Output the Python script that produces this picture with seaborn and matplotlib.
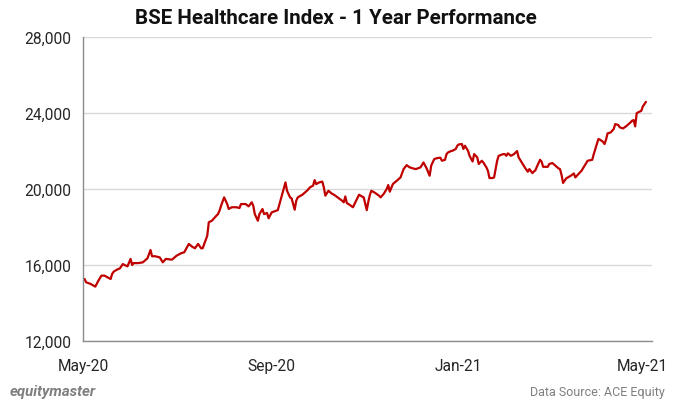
import pandas as pd
import numpy as np
import matplotlib
matplotlib.use("Agg")
import matplotlib.pyplot as plt
import matplotlib.dates as mdates
import matplotlib.ticker as mticker
import seaborn as sns

# days after 1 May 2020
day = [1, 2, 5, 7, 8, 10, 12, 14, 16, 18, 19, 20, 22, 24, 26, 27, 29, 31, 32, 33,
       36, 39, 42, 44, 45, 47, 50, 52, 54, 58, 61, 64, 66, 69, 71, 73,
       75, 77, 78, 81, 82, 84, 85, 87, 88, 89, 90, 92, 94, 95, 97, 100, 102, 103,
       106, 108, 110, 111, 112, 114, 115, 117, 118, 120, 121, 123, 125, 127, 129,
       130, 132, 133, 135, 136, 138, 139, 140,
       143, 146, 148, 150, 151, 152, 154, 156, 157, 158, 160, 162, 164, 166, 169,
       170, 171, 172, 174, 176, 178, 180, 182, 183, 185, 186, 187, 188, 190, 193,
       194, 196, 198, 199, 200, 202, 205, 207, 209, 211, 213, 215,
       217, 220, 222, 224, 226, 227, 229, 231, 233, 234, 236, 237, 238, 240, 241,
       243, 244, 245, 247, 248, 249, 251, 252, 254, 255, 257, 258, 260, 261, 263,
       264, 265, 267, 268, 270, 271, 274, 275, 276, 277, 279, 281, 283, 284, 286, 288,
       290, 291, 293, 295, 296, 298, 299, 300, 303, 304, 306, 308, 310, 311, 312,
       313, 315, 318, 320, 321, 323, 325, 327, 329, 332, 333, 334, 336, 337, 339,
       340, 341, 342, 344, 346, 347, 349, 350, 352, 354, 355, 357, 358, 359, 360,
       361, 362, 364, 365, 367]

index_value = [15263, 15090, 15000, 14910, 14860, 15170, 15440, 15440, 15350, 15260,
               15530, 15650, 15750, 15820, 16050, 16000, 15930, 16320, 16000, 16100,
               16100, 16140, 16350, 16790, 16460, 16460, 16400, 16140, 16320, 16280,
               16490, 16620, 16670, 17110, 16970, 16880,
               17110, 16880, 16880, 17540, 18250, 18330, 18420, 18600, 18680, 18860,
               19120, 19560, 19210, 18950, 19040, 19040, 19000, 19210,
               19210, 19090, 19300, 19120, 18680, 18330, 18680, 18950, 18680, 18740,
               18460, 18770, 18830, 18890, 19470, 19740, 20350, 19910, 19560, 19510,
               18910, 19380, 19560,
               19700, 19910, 20090, 20180, 20470, 20260, 20350, 20390, 20090, 19650,
               19910, 19770, 19680, 19560, 19380, 19300, 19610, 19260, 19160, 19040,
               19380, 19700, 19600, 19560, 18890, 19330, 19680, 19910, 19820, 19650,
               19560, 19740, 20000, 20210, 19860, 20260, 20470, 20610, 21050, 21260,
               21140, 21090,
               21050, 21140, 21400, 21090, 20700, 21230, 21580, 21630, 21650, 21490,
               21540, 21840, 21930, 22000, 22020, 22110, 22280, 22350, 22370, 22110,
               22280, 22020, 21750, 21450, 21840, 21670, 21320, 21490, 21400, 21140,
               20960, 20580, 20580, 20610, 21490, 21750, 21840, 21840, 21750, 21880,
               21750, 21840, 22000, 21670, 21400, 21140,
               20910, 21050, 20840, 21000, 21190, 21540, 21440, 21170, 21170, 21320,
               21370, 21230, 21090, 21050, 20740, 20320, 20560, 20700, 20820, 20610,
               20790, 20960, 21230, 21490, 21540, 21840, 22110, 22630, 22600, 22490,
               22370, 22600, 22930, 22980, 23160, 23420, 23370, 23250, 23190, 23300,
               23370, 23510, 23600, 23630, 23300, 24000, 24040, 24120, 24350, 24590]

y_ticks = [12000, 16000, 20000, 24000, 28000]

start = pd.Timestamp("2020-05-01")
df = pd.DataFrame({"date": start + pd.to_timedelta(day, unit="D"),
                   "value": index_value})

sns.set_style("white")
plt.rcParams["font.family"] = ["Roboto", "DejaVu Sans"]

fig = plt.figure(figsize=(6.75, 4.10), dpi=100)
ax = fig.add_axes([0.123, 0.166, 0.843, 0.741])

sns.lineplot(data=df, x="date", y="value", color="#C00000", linewidth=1.6, ax=ax)

ax.set_ylim(12000, 28000)
ax.set_yticks(y_ticks)
ax.yaxis.set_major_formatter(mticker.FuncFormatter(lambda v, p: f"{int(v):,}"))
ax.set_xlim(pd.Timestamp("2020-05-01"), pd.Timestamp("2021-05-07"))
ax.xaxis.set_major_locator(mdates.MonthLocator(bymonth=[1, 5, 9]))
ax.xaxis.set_major_formatter(mdates.DateFormatter("%b-%y"))

ax.grid(axis="y", color="#d9d9d9", linewidth=1)
ax.set_axisbelow(True)
for s in ["top", "right"]:
    ax.spines[s].set_visible(False)
for s in ["left", "bottom"]:
    ax.spines[s].set_color("#8c8c8c")
    ax.spines[s].set_linewidth(1)
ax.tick_params(axis="both", length=5, color="#8c8c8c", width=1,
               labelsize=11.2, labelcolor="#262626", direction="out")
ax.tick_params(axis="x", pad=7)
ax.set_xlabel("")
ax.set_ylabel("")

fig.suptitle("BSE Healthcare Index - 1 Year Performance", x=0.498, y=0.977,
             fontsize=14.8, fontweight="bold", color="#111111")
fig.text(0.015, 0.035, "equitymaster", fontsize=10.8, fontweight="bold",
         style="italic", color="#7f7f7f")
fig.text(0.985, 0.035, "Data Source: ACE Equity", fontsize=9, color="#7f7f7f",
         ha="right")

fig.savefig("out.png", dpi=100)
